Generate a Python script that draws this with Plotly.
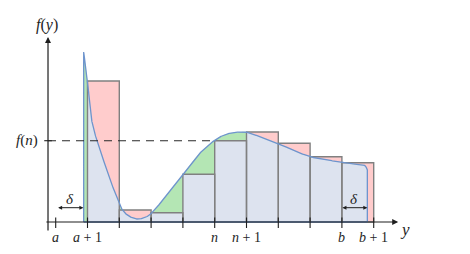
import numpy as np
import plotly.graph_objects as go

# ---- data (x in step units with a = 0, y in arbitrary units) ----
curve_x = [0.88, 0.88, 1.00, 1.13, 1.29, 1.50, 1.71, 1.92, 2.02, 2.23, 2.55, 2.86, 3.02,
           3.49, 3.99, 4.43, 4.98, 5.38, 5.80, 5.98, 6.42, 6.99, 7.58, 8.00, 8.47, 8.97,
           9.41, 9.72, 9.80, 9.80]
curve_y = [0.0, 17.0, 14.1, 10.2, 8.2, 6.2, 4.2, 2.5, 1.6, 0.75, 0.3, 0.53, 0.9,
           2.7, 4.7, 6.53, 8.13, 8.8, 9.0, 9.0, 8.53, 7.87, 7.03, 6.53, 6.25, 5.97,
           5.75, 5.65, 5.2, 0.0]
rect_left = [1, 2, 3, 4, 5, 6, 7, 8, 9]
rect_height = [14.1, 1.2, 0.93, 4.77, 8.13, 9.0, 7.87, 6.53, 5.93]
tick_pos = [0, 1, 2, 3, 4, 5, 6, 7, 8, 9, 10]
tick_labels = {0: "<i>a</i>", 1: "<i>a</i> + 1", 5: "<i>n</i>", 6: "<i>n</i> + 1",
               9: "<i>b</i>", 10: "<i>b</i> + 1"}
f_n = 8.13
delta_left = (0.03, 0.87)
delta_right = (8.97, 9.80)

PINK = "rgb(255,204,204)"
GREEN = "rgb(180,230,180)"
BLUE_FILL = "rgb(221,227,239)"
CURVE = "rgb(110,148,205)"
EDGE = "rgb(128,128,128)"
INK = "rgb(30,30,30)"
FONT = "Liberation Serif"


def smooth(xp, yp, n=40):
    """Centripetal Catmull-Rom through the read points (for drawing only)."""
    P = np.column_stack([xp, yp]).astype(float)
    S = np.array([31.8, 10.0])
    Q = P * S
    Q = np.vstack([2 * Q[0] - Q[1], Q, 2 * Q[-1] - Q[-2]])
    out = []
    for i in range(1, len(Q) - 2):
        p0, p1, p2, p3 = Q[i - 1], Q[i], Q[i + 1], Q[i + 2]
        t0 = 0.0
        t1 = t0 + np.linalg.norm(p1 - p0) ** 0.5
        t2 = t1 + np.linalg.norm(p2 - p1) ** 0.5
        t3 = t2 + np.linalg.norm(p3 - p2) ** 0.5
        t = np.linspace(t1, t2, n, endpoint=False)[:, None]
        a1 = (t1 - t) / (t1 - t0) * p0 + (t - t0) / (t1 - t0) * p1
        a2 = (t2 - t) / (t2 - t1) * p1 + (t - t1) / (t2 - t1) * p2
        a3 = (t3 - t) / (t3 - t2) * p2 + (t - t2) / (t3 - t2) * p3
        b1 = (t2 - t) / (t2 - t0) * a1 + (t - t0) / (t2 - t0) * a2
        b2 = (t3 - t) / (t3 - t1) * a2 + (t - t1) / (t3 - t1) * a3
        c = (t2 - t) / (t2 - t1) * b1 + (t - t1) / (t2 - t1) * b2
        out.append(c)
    out.append(Q[-2][None, :])
    R = np.vstack(out) / S
    return R[:, 0], R[:, 1]


sx, sy = smooth(curve_x[1:-1], curve_y[1:-1])
full_x = np.concatenate([[curve_x[0]], sx, [curve_x[-1]]])
full_y = np.concatenate([[curve_y[0]], sy, [curve_y[-1]]])

fig = go.Figure()

# pink rectangles
px, py = [], []
for l, h in zip(rect_left, rect_height):
    px += [l, l, l + 1, l + 1, l, None]
    py += [0, h, h, 0, 0, None]
fig.add_trace(go.Scatter(x=px, y=py, fill="toself", fillcolor=PINK, mode="none",
                         hoverinfo="skip"))

# green: area under the curve
fig.add_trace(go.Scatter(x=full_x, y=full_y, fill="toself", fillcolor=GREEN,
                         mode="none", hoverinfo="skip"))

# light blue: under min(curve, step)
order = np.argsort(sx, kind="stable")
ux, uy = sx[order], sy[order]
xs = np.linspace(ux[0], ux[-1], 4000)
brk = []
for l in rect_left:
    brk += [l - 1e-6, l + 1e-6]
xs = np.sort(np.concatenate([xs, [b for b in brk if ux[0] < b < ux[-1]]]))
cur = np.interp(xs, ux, uy)
step = np.zeros_like(xs)
for l, h in zip(rect_left, rect_height):
    step[(xs >= l) & (xs < l + 1)] = h
low = np.minimum(cur, step)
fig.add_trace(go.Scatter(x=np.concatenate([[xs[0]], xs, [xs[-1]]]),
                         y=np.concatenate([[0], low, [0]]),
                         fill="toself", fillcolor=BLUE_FILL, mode="none",
                         hoverinfo="skip"))

# rectangle outlines
fig.add_trace(go.Scatter(x=px, y=py, mode="lines", line=dict(color=EDGE, width=1.4),
                         hoverinfo="skip"))

# x axis + y axis (arrows)
fig.add_annotation(x=10.77, y=0, ax=-0.34, ay=0, xref="x", yref="y", axref="x", ayref="y",
                   showarrow=True, arrowhead=2, arrowsize=1, arrowwidth=1.2,
                   arrowcolor=INK, text="")
fig.add_annotation(x=-0.242, y=18.5, ax=-0.242, ay=-1.0, xref="x", yref="y", axref="x",
                   ayref="y", showarrow=True, arrowhead=2, arrowsize=1, arrowwidth=1.2,
                   arrowcolor=INK, text="")

# curve outline (closed along the base)
fig.add_trace(go.Scatter(x=full_x, y=full_y, mode="lines",
                         line=dict(color=CURVE, width=1.3), hoverinfo="skip"))
fig.add_trace(go.Scatter(x=[curve_x[0], curve_x[-1]], y=[0, 0], mode="lines",
                         line=dict(color=CURVE, width=1.3), hoverinfo="skip"))

# ticks
tx, ty = [], []
for t in tick_pos:
    tx += [t, t, None]
    ty += [0.45, -0.6, None]
tx += [-0.36, -0.12, None]
ty += [f_n, f_n, None]
fig.add_trace(go.Scatter(x=tx, y=ty, mode="lines", line=dict(color=INK, width=1.1),
                         hoverinfo="skip"))

# dashed f(n) line
fig.add_trace(go.Scatter(x=[-0.242, 5], y=[f_n, f_n], mode="lines",
                         line=dict(color="rgb(40,40,40)", width=1.1, dash="8px,6px"),
                         hoverinfo="skip"))

# delta arrows
for (d0, d1) in (delta_left, delta_right):
    fig.add_annotation(x=d1, y=1.43, ax=d0, ay=1.43, xref="x", yref="y", axref="x",
                       ayref="y", showarrow=True, arrowhead=2, arrowsize=0.8,
                       arrowwidth=1, arrowside="end+start", arrowcolor=INK, text="")
    fig.add_annotation(x=(d0 + d1) / 2, y=2.3, text="<i>δ</i>", showarrow=False,
                       font=dict(family=FONT, size=15, color=INK))

# tick labels
for t, lab in tick_labels.items():
    fig.add_annotation(x=t, y=-1.55, text=lab, showarrow=False,
                       font=dict(family=FONT, size=14, color=INK))

fig.add_annotation(x=-0.27, y=19.7, text="<i>f</i>(<i>y</i>)", showarrow=False,
                   font=dict(family=FONT, size=16, color=INK))
fig.add_annotation(x=-0.9, y=f_n, text="<i>f</i>(<i>n</i>)", showarrow=False,
                   font=dict(family=FONT, size=15, color=INK))
fig.add_annotation(x=10.98, y=-0.75, text="<i>y</i>", showarrow=False,
                   font=dict(family=FONT, size=17, color=INK))

fig.update_layout(
    width=470, height=254, margin=dict(l=0, r=0, t=0, b=0),
    paper_bgcolor="white", plot_bgcolor="white", showlegend=False,
    font=dict(family=FONT),
    xaxis=dict(range=[-1.7516, 13.0283], visible=False, fixedrange=True),
    yaxis=dict(range=[-3.2, 22.2], visible=False, fixedrange=True),
)

fig.write_html("out.html")
